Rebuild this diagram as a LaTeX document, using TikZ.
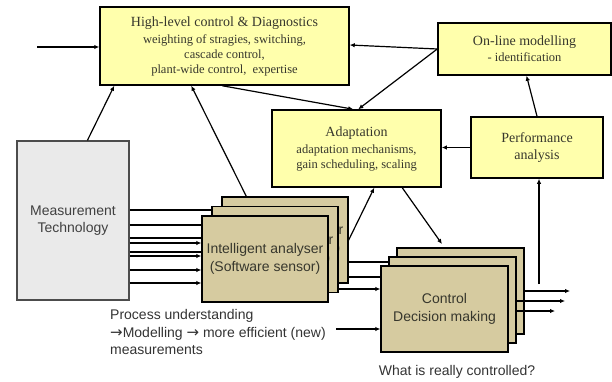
\documentclass[tikz,border=0pt]{standalone}
\usepackage{fontspec}
\setmainfont{Liberation Serif}
\newfontfamily\arialf{Liberation Sans}
\newfontfamily\djv{DejaVu Sans}
\usetikzlibrary{arrows.meta,calc}
\definecolor{ybox}{RGB}{255,255,172}
\definecolor{tbox}{RGB}{214,203,160}
\definecolor{gbox}{RGB}{234,234,234}
\definecolor{txt}{RGB}{55,55,45}
\tikzset{
  ybx/.style={draw=black,line width=1.5pt,fill=ybox,inner sep=0pt,align=center,text=txt,
    font=\fontsize{12.5}{15}\selectfont},
  tbx/.style={draw=black,line width=1.4pt,fill=tbox,inner sep=0pt,align=center,text=txt,
    minimum width=126pt,minimum height=86pt,font=\arialf\fontsize{14}{18}\selectfont},
  gbx/.style={draw=black!70,line width=1.2pt,fill=gbox,inner sep=0pt,align=center,text=black!75,
    font=\arialf\fontsize{14}{17}\selectfont},
  conn/.style={line width=1.2pt,-{Latex[length=5pt,width=4.5pt]}},
  plain/.style={line width=1.2pt},
}
\newcommand{\ttl}[1]{{\fontsize{14}{15}\selectfont #1}}
\newcommand{\rarr}{{\djv\fontsize{15}{15}\selectfont →}}
\begin{document}
\begin{tikzpicture}[x=1pt,y=-1pt]
\useasboundingbox (0,0) rectangle (612,382);
% yellow boxes
\node[ybx,minimum width=249pt,minimum height=78pt] (hl) at (224.5,46)
  {\ttl{High-level control \& Diagnostics}\\[2pt]weighting of stragies, switching,\\cascade control,\\plant-wide control,\ \ expertise};
\node[ybx,minimum width=173pt,minimum height=52pt] (olm) at (524.5,49)
  {\ttl{On-line modelling}\\[1pt]- identification};
\node[ybx,minimum width=169pt,minimum height=77pt] (adp) at (356.5,148.5)
  {\ttl{Adaptation}\\[2pt]adaptation mechanisms,\\gain scheduling, scaling};
\node[ybx,minimum width=132pt,minimum height=61pt,font=\fontsize{14}{17}\selectfont] (perf) at (537,147.5)
  {Performance\\analysis};
% measurement
\node[gbx,minimum width=112pt,minimum height=159pt] (meas) at (73,220.5) {Measurement\\Technology};
% intelligent analyser stack
\node[tbx] (ia3) at (285,240) {Intelligent analyser\\(Software sensor)};
\node[tbx] (ia2) at (275,249.5) {Intelligent analyser\\(Software sensor)};
\node[tbx] (ia1) at (265,259) {Intelligent analyser\\(Software sensor)};
% control stack
\node[tbx,minimum width=127pt] (cd3) at (460.5,291) {};
\node[tbx,minimum width=127pt] (cd2) at (452.5,300) {};
\node[tbx,minimum width=127pt] (cd1) at (444.5,309) {Control\\Decision making};
% free texts
\node[anchor=west,align=left,inner sep=0pt,text=black!80,font=\arialf\fontsize{14}{17.5}\selectfont] (proc) at (110,332)
  {Process understanding\\\rarr Modelling \rarr\ more efficient (new)\\measurements};
\node[inner sep=0pt,text=black!80,font=\arialf\fontsize{14}{17}\selectfont] (what) at (457,372) {What is really controlled?};
% coordinates
\coordinate (inp) at (37,47);
\coordinate (newsrc) at (336,329);
\coordinate (pv) at (539,284);
\coordinate (out1) at (570,291);
\coordinate (out2) at (565,301);
\coordinate (out3) at (555,311);
% connectors
\draw[conn] (inp) -- (inp -| hl.west);
\draw[conn] ([xshift=71pt]meas.north west) -- ([xshift=15pt]hl.south west);
\draw[conn] ([xshift=25pt]ia3.north west) -- ([xshift=92pt]hl.south west);
\draw[conn] ([xshift=123pt]hl.south west) -- ([xshift=82pt]adp.north west);
\draw[conn] (olm.west) -- ([yshift=1pt]hl.east);
\draw[conn] (olm.west) -- ([xshift=87pt]adp.north west);
\draw[conn] (perf.north) -- ([xshift=2pt]olm.south);
\draw[conn] (perf.west) -- (perf.west -| adp.east);
\draw[conn] (ia3.east) -- ([xshift=103pt]adp.south west);
\draw[conn,shorten >=4pt] ([xshift=131pt]adp.south west) -- ([xshift=48pt]cd3.north west);
\draw[conn] (pv) -- (pv |- perf.south);
\draw[conn] (out1 -| cd3.east) -- (out1);
\draw[conn] (out2 -| cd2.east) -- (out2);
\draw[conn] (out3 -| cd2.east) -- (out3);
% measurement to analyser
\draw[plain] (meas.east |- 0,210) -- (ia2.west |- 0,210);
\foreach \yy in {225,238,252} \draw[plain] (meas.east |- 0,\yy) -- (ia1.west |- 0,\yy);
\foreach \yy in {243,256,270,283} \draw[conn] (meas.east |- 0,\yy) -- (ia1.west |- 0,\yy);
% analyser to control
\draw[plain] (ia3.east |- 0,262) -- (cd2.west |- 0,262);
\draw[plain] (ia3.east |- 0,277) -- (cd1.west |- 0,277);
\draw[conn] (ia2.east |- 0,289) -- (cd1.west |- 0,289);
\draw[conn] (newsrc) -- (newsrc -| cd1.west);
\end{tikzpicture}
\end{document}
